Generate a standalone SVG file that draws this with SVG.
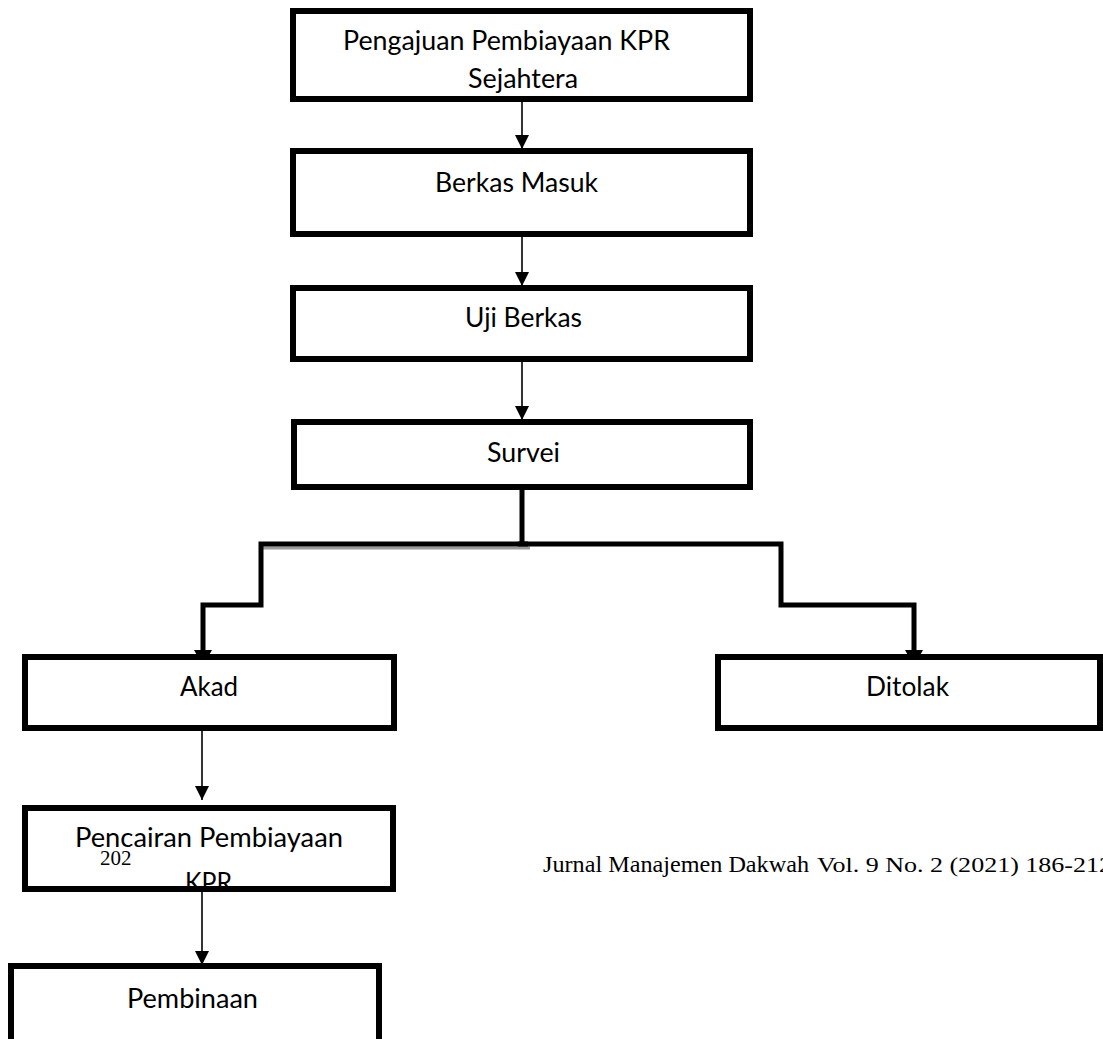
<svg xmlns="http://www.w3.org/2000/svg" width="1103" height="1039" viewBox="0 0 1103 1039">
<style>
.box{fill:#fff;stroke:#000;stroke-width:6}
.bg{fill:#fff;stroke:none}
.border{fill:none;stroke:#000;stroke-width:6}
.lbl{font-family:Lato,"Liberation Sans",sans-serif;font-size:27px;fill:#000}
.serif{font-family:"Liberation Serif","Times New Roman",serif;fill:#000}
.thin{stroke:#000;stroke-width:1.6;fill:none}
.thick{stroke:#000;stroke-width:5;fill:none;stroke-linejoin:miter;stroke-linecap:butt}
</style>
<defs>
<marker id="ah" markerUnits="userSpaceOnUse" markerWidth="15" markerHeight="14" refX="14" refY="7" orient="auto">
<path d="M0,0 L14,7 L0,14 z" fill="#000"/>
</marker>
</defs>
<rect width="1103" height="1039" fill="#fff"/>

<g id="connectors">
<line class="thin" x1="522" y1="102" x2="522" y2="149" marker-end="url(#ah)"/>
<line class="thin" x1="522" y1="237" x2="522" y2="286" marker-end="url(#ah)"/>
<line class="thin" x1="522" y1="362" x2="522" y2="420" marker-end="url(#ah)"/>
<line x1="262" y1="548" x2="530" y2="548" stroke="#9a9a9a" stroke-width="3"/>
<line class="thick" x1="522" y1="490" x2="522" y2="543"/>
<polyline class="thick" points="528,544 261,544 261,605 203,605 203,652"/>
<polyline class="thick" points="518,544 781,544 781,605 914,605 914,652"/>
<path d="M194,650 L212,650 L203,666 z" fill="#000"/>
<path d="M905,650 L923,650 L914,666 z" fill="#000"/>
<line class="thin" x1="202" y1="731" x2="202" y2="800" marker-end="url(#ah)"/>
<line class="thin" x1="202" y1="892" x2="202" y2="965" marker-end="url(#ah)"/>
</g>

<g id="node-pengajuan">
<rect class="box" x="293" y="11" width="457" height="88"/>
<text class="lbl" x="343" y="50" textLength="327" lengthAdjust="spacingAndGlyphs">Pengajuan Pembiayaan KPR</text>
<text class="lbl" x="468" y="88" textLength="110" lengthAdjust="spacingAndGlyphs">Sejahtera</text>
</g>

<g id="node-berkas-masuk">
<rect class="box" x="293" y="151" width="457" height="83"/>
<text class="lbl" x="435" y="192" textLength="163" lengthAdjust="spacingAndGlyphs">Berkas Masuk</text>
</g>

<g id="node-uji-berkas">
<rect class="box" x="293" y="288" width="457" height="71"/>
<text class="lbl" x="465" y="327" textLength="117" lengthAdjust="spacingAndGlyphs">Uji Berkas</text>
</g>

<g id="node-survei">
<rect class="box" x="294" y="422" width="456" height="65"/>
<text class="lbl" x="487" y="462" textLength="73" lengthAdjust="spacingAndGlyphs">Survei</text>
</g>

<g id="node-akad">
<rect class="box" x="25" y="657" width="369" height="71"/>
<text class="lbl" x="180" y="696" textLength="58" lengthAdjust="spacingAndGlyphs">Akad</text>
</g>

<g id="node-ditolak">
<rect class="box" x="718" y="657" width="382" height="71"/>
<text class="lbl" x="866" y="696" textLength="83" lengthAdjust="spacingAndGlyphs">Ditolak</text>
</g>

<g id="node-pencairan">
<rect class="bg" x="25" y="808" width="368" height="81"/>
<text class="lbl" x="75" y="847" textLength="268" lengthAdjust="spacingAndGlyphs">Pencairan Pembiayaan</text>
<text class="serif" x="100" y="865" font-size="21">202</text>
<text class="lbl" x="185" y="892" textLength="47" lengthAdjust="spacingAndGlyphs">KPR</text>
<rect class="border" x="25" y="808" width="368" height="81"/>
</g>

<g id="node-pembinaan">
<rect class="box" x="11" y="966" width="368" height="90"/>
<text class="lbl" x="127" y="1008" textLength="131" lengthAdjust="spacingAndGlyphs">Pembinaan</text>
</g>

<g id="footer">
<text class="serif" x="543" y="872" font-size="24" textLength="266" lengthAdjust="spacingAndGlyphs">Jurnal Manajemen Dakwah</text>
<text class="serif" x="817" y="872" font-size="21" textLength="295" lengthAdjust="spacingAndGlyphs">Vol. 9 No. 2 (2021) 186-212</text>
</g>
</svg>
